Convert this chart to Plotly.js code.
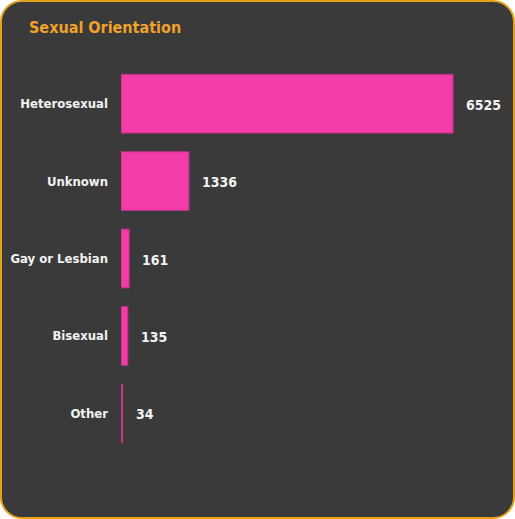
<!DOCTYPE html>
<html>
<head>
<meta charset="utf-8">
<script src="https://cdn.plot.ly/plotly-3.0.1.min.js"></script>
<style>
  html, body { margin: 0; padding: 0; background: #ffffff; }
  #card {
    position: absolute; left: 0; top: 0;
    width: 511px; height: 515px;
    border: 2px solid #e3a21a;
    border-radius: 22px;
    background: #3a3a3a;
    overflow: hidden;
  }
  #chart { position: absolute; left: -2px; top: -2px; width: 515px; height: 519px; }
</style>
</head>
<body>
<div id="card"><div id="chart"></div></div>
<script>
const categories = ["Heterosexual", "Unknown", "Gay or Lesbian", "Bisexual", "Other"];
const counts = [6525, 1336, 161, 135, 34];
const chartTitle = "Sexual Orientation";

const FONT = "'DejaVu Sans Condensed', 'DejaVu Sans', sans-serif";

const trace = {
  type: "bar",
  orientation: "h",
  y: categories,
  x: counts,
  width: 0.76,
  marker: { color: "#f23ca8", line: { color: "#b82e82", width: 1 } },
  hoverinfo: "none"
};

const annotations = categories.map((c, i) => ({
  x: counts[i], y: c, xref: "x", yref: "y",
  text: String(counts[i]), showarrow: false,
  xanchor: "left", yanchor: "middle", xshift: 11, yshift: -1,
  font: { family: FONT, size: 14, color: "#f2f2f2", weight: "bold" }
}));

const layout = {
  width: 515, height: 519,
  paper_bgcolor: "rgba(0,0,0,0)",
  plot_bgcolor: "rgba(0,0,0,0)",
  margin: { l: 121, r: 15, t: 65, b: 67 },
  title: {
    text: chartTitle, x: 29 / 515, xanchor: "left", xref: "container",
    y: 1 - 27 / 519, yanchor: "middle", yref: "container",
    font: { family: FONT, size: 16, color: "#f0a22a", weight: "bold" }
  },
  xaxis: {
    range: [0, 7446], visible: false, fixedrange: true
  },
  yaxis: {
    autorange: "reversed", showgrid: false, zeroline: false, showline: false,
    ticks: "", ticklabelstandoff: 12,
    tickfont: { family: FONT, size: 13, color: "#f2f2f2", weight: "bold" }
  },
  annotations: annotations,
  showlegend: false
};

Plotly.newPlot("chart", [trace], layout, { displayModeBar: false, staticPlot: true });
</script>
</body>
</html>
